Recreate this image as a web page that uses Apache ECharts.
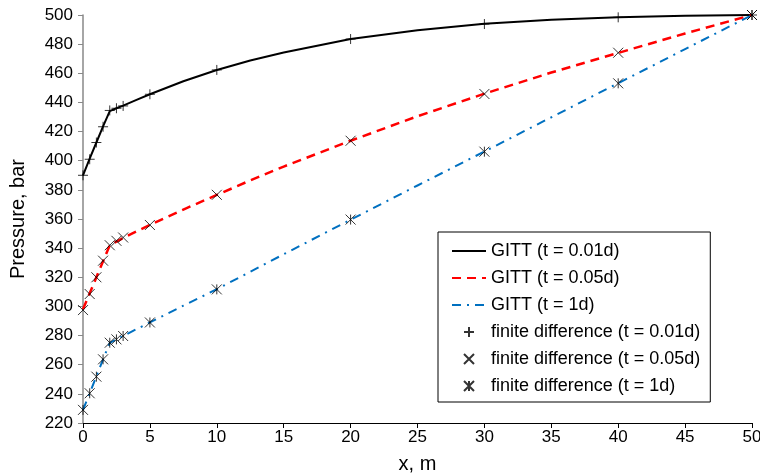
<!DOCTYPE html>
<html>
<head>
<meta charset="utf-8">
<title>Pressure profile</title>
<script src="https://cdn.jsdelivr.net/npm/echarts@6/dist/echarts.min.js"></script>
<style>
    html, body { margin: 0; padding: 0; background: #fff; }
    #chart { width: 760px; height: 476px; }
</style>
</head>
<body>
<div id="chart"></div>
<script>
// 数据
const xLine = [0, 0.5, 1, 1.5, 2, 2.5, 3, 4, 5, 7.5, 10, 12.5, 15, 20, 25, 30, 35, 40, 45, 50];
const gitt001 = [390, 401.5, 412.5, 423.5, 434, 436, 437.8, 441.7, 445.6, 454.5, 462.3, 468.8, 474.3, 483.5, 489.5, 494, 496.7, 498.4, 499.5, 500];
const gitt005 = [298, 309, 320, 331, 342, 344.5, 347, 351.5, 356, 366.5, 376.5, 386.5, 396, 413.7, 430.5, 446, 460.5, 474, 487.3, 500];
const gitt1 = [229, 240.5, 252, 263.7, 275, 277.4, 279.7, 284.4, 289, 300.5, 311.8, 323.8, 335.8, 359.5, 383, 406.3, 429.8, 453.2, 476.6, 500];

const xMarker = [0, 0.5, 1, 1.5, 2, 2.5, 3, 5, 10, 20, 30, 40, 50];
const fd001 = [390, 401, 412.5, 423.3, 434.5, 436, 437.6, 445.6, 462.3, 483.5, 493.8, 498.4, 500];
const fd005 = [297.5, 308.5, 320, 331.4, 342, 345, 347.3, 355.9, 376.6, 413.7, 445.8, 474.1, 500];
const fd1 = [229, 240.4, 251.8, 263.7, 275.1, 277.4, 279.7, 289, 311.7, 359.6, 406.2, 453.1, 500];

const seriesNames = [
    'GITT (t = 0.01d)', 'GITT (t = 0.05d)', 'GITT (t = 1d)',
    'finite difference (t = 0.01d)', 'finite difference (t = 0.05d)', 'finite difference (t = 1d)'
];

const FONT = 'Liberation Sans, Arial, sans-serif';

// 标记符号
const PLUS = 'path://M5,0 L5,10 M0,5 L10,5';
const CROSS = 'path://M0,0 L10,10 M10,0 L0,10';
const STAR = 'path://M0,0 L10,10 M10,0 L0,10 M5,0 L5,10';

function zip(xs, ys) {
    return xs.map((x, i) => [x, ys[i]]);
}

function lineSeries(name, ys, color, width, type) {
    return {
        name: name,
        type: 'line',
        data: zip(xLine, ys),
        symbol: 'none',
        showSymbol: false,
        z: 2,
        lineStyle: { color: color, width: width, type: type },
        // 图例里不显示圆点
        itemStyle: { color: color, opacity: 0 }
    };
}

function markerSeries(name, ys, symbol) {
    return {
        name: name,
        type: 'scatter',
        data: zip(xMarker, ys),
        symbol: symbol,
        symbolSize: 10,
        symbolKeepAspect: true,
        z: 5,
        itemStyle: { color: 'transparent', borderColor: '#000', borderWidth: 1 }
    };
}

function initChart() {
    const chart = echarts.init(document.getElementById('chart'));
    const option = {
        animation: false,
        textStyle: { fontFamily: FONT },
        grid: { left: 83, right: 8, top: 15, bottom: 53, outerBoundsMode: 'none', containLabel: false },
        legend: {
            orient: 'vertical',
            left: 438,
            top: 232,
            padding: [10, 10, 7, 13],
            itemWidth: 34,
            itemHeight: 10,
            itemGap: 9,
            borderColor: '#000',
            borderWidth: 1,
            textStyle: { fontSize: 18, color: '#000', fontFamily: FONT },
            data: seriesNames
        },
        xAxis: {
            type: 'value',
            min: 0,
            max: 50,
            interval: 5,
            name: 'x, m',
            nameLocation: 'middle',
            nameGap: 31,
            nameTextStyle: { fontSize: 20, color: '#000', fontFamily: FONT },
            axisLine: { lineStyle: { color: '#000', width: 1 } },
            axisTick: { show: true, length: 5, lineStyle: { color: '#000' } },
            axisLabel: { fontSize: 17, color: '#000', margin: 6 },
            splitLine: { show: false }
        },
        yAxis: {
            type: 'value',
            min: 220,
            max: 500,
            interval: 20,
            name: 'Pressure, bar',
            nameLocation: 'middle',
            nameGap: 55,
            nameTextStyle: { fontSize: 20, color: '#000', fontFamily: FONT },
            axisLine: { show: true, lineStyle: { color: '#888', width: 1.5 } },
            axisTick: { show: true, length: 5, lineStyle: { color: '#888' } },
            axisLabel: { fontSize: 17, color: '#000', margin: 10 },
            splitLine: { show: false }
        },
        series: [
            lineSeries(seriesNames[0], gitt001, '#000', 2, 'solid'),
            lineSeries(seriesNames[1], gitt005, '#ff0000', 2.5, [9, 6]),
            lineSeries(seriesNames[2], gitt1, '#0070c0', 2, [9, 6, 2, 6]),
            markerSeries(seriesNames[3], fd001, PLUS),
            markerSeries(seriesNames[4], fd005, CROSS),
            markerSeries(seriesNames[5], fd1, STAR)
        ]
    };
    chart.setOption(option);
}

document.addEventListener('DOMContentLoaded', initChart);
</script>
</body>
</html>
